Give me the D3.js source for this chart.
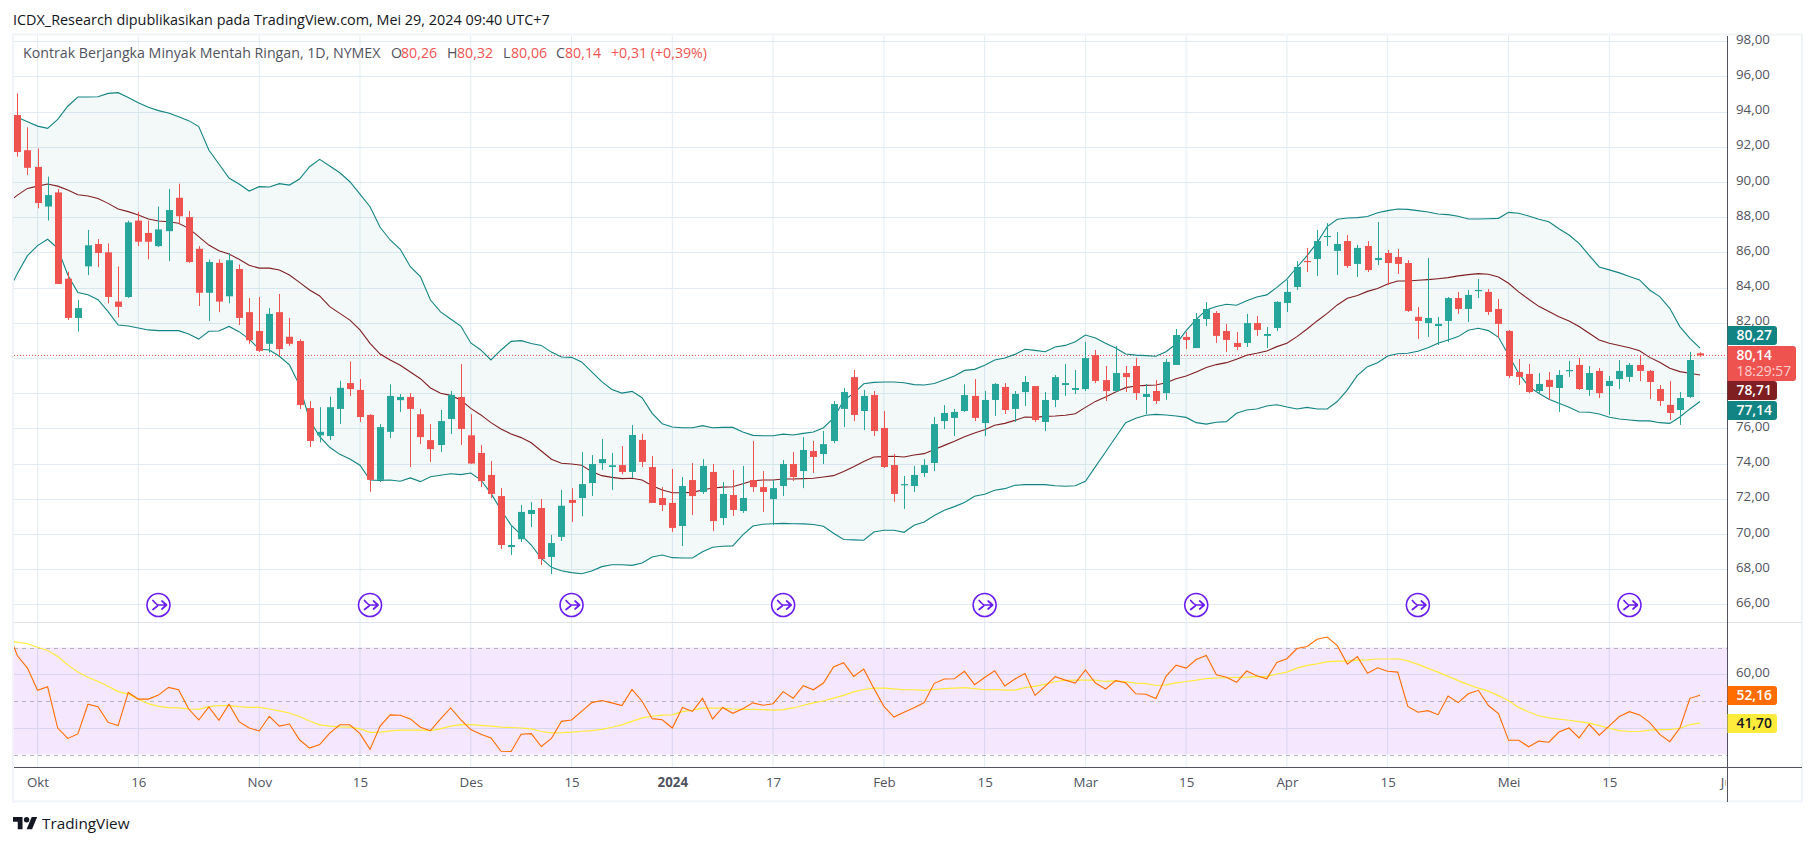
<!DOCTYPE html>
<html>
<head>
<meta charset="utf-8">
<title>ICDX chart</title>
<script src="https://cdn.jsdelivr.net/npm/d3@7"></script>
<style>
html,body{margin:0;padding:0;background:#fff;overflow:hidden}
text{font-family:"Open Sans","Noto Sans",sans-serif}
</style>
</head>
<body>
<svg id="c" width="1815" height="846"></svg>
<script>
const headerText = "ICDX_Research dipublikasikan pada TradingView.com, Mei 29, 2024 09:40 UTC+7";
const symbolText = "Kontrak Berjangka Minyak Mentah Ringan, 1D, NYMEX";
const ohlcKeys = ["O","H","L","C"];
const ohlcVals = ["80,26","80,32","80,06","80,14"];
const changeText = "+0,31 (+0,39%)";
const brandText = "TradingView";

const opens = [93.8,91.8,90.85,88.6,89.4,84.5,82.27,85.2,86.47,86.0,83.2,83.46,87.8,87.1,86.35,87.2,89.1,88.0,86.2,83.7,85.4,83.5,85.05,82.6,81.53,80.8,82.6,81.2,80.96,77.15,75.6,75.56,77.1,78.57,78.18,76.76,73.07,75.8,77.6,77.78,76.8,75.33,75.05,76.53,77.78,75.6,74.6,73.35,72.15,69.25,69.7,71.13,71.47,68.69,69.83,71.93,72.04,72.89,74.02,73.8,73.91,73.52,75.34,73.8,72.04,71.76,70.45,73.06,72.38,73.52,70.9,72.21,71.3,73.06,72.66,71.98,72.72,73.97,73.57,74.71,74.54,75.28,77.1,78.91,76.98,77.89,76.02,73.91,72.78,72.72,73.46,74.03,76.41,76.59,76.98,77.84,76.3,77.61,78.35,77.1,78.06,78.4,76.36,77.61,78.46,78.18,78.23,80.16,78.74,78.12,79.14,79.54,77.78,78.12,78.0,79.6,81.19,80.56,82.21,82.55,81.53,80.85,80.85,81.98,81.25,81.7,83.12,84.03,85.51,85.62,86.87,86.08,86.64,85.34,86.36,85.56,85.96,85.73,85.39,82.33,81.98,81.81,82.1,83.4,82.78,83.8,83.75,82.78,81.53,79.2,79.09,78.12,78.75,78.29,79.26,79.6,78.18,79.26,78.4,78.8,78.92,79.6,79.26,78.23,77.33,77.04,77.78,80.26];
const highs = [95.03,93.1,91.9,90.3,89.6,84.9,83.3,87.27,86.75,86.5,85.2,87.8,88.3,87.8,88.6,89.6,89.9,88.35,86.35,85.6,85.6,85.95,85.3,83.4,83.46,82.83,83.63,82.27,81.07,77.55,77.2,77.8,78.7,79.8,78.8,76.8,76.24,78.5,77.95,78.0,77.1,76.24,77.04,78.12,79.65,76.8,75.05,74.14,72.6,70.5,71.64,71.8,71.98,69.94,72.5,72.6,74.65,74.48,75.39,74.6,74.99,76.19,75.68,74.43,72.66,73.69,73.23,74.03,74.25,73.97,72.95,73.63,73.86,75.28,73.57,73.06,74.2,74.65,75.5,75.28,75.85,77.55,78.29,79.31,78.18,78.12,76.98,74.54,73.29,73.86,74.25,76.64,77.32,77.1,78.5,78.8,78.12,78.57,78.57,78.12,78.97,78.4,78.06,79.03,79.65,79.31,80.9,80.45,79.54,80.68,79.54,80.0,78.52,78.74,79.94,81.64,81.47,82.55,83.17,82.66,81.93,81.47,82.5,82.38,81.76,83.23,84.43,85.5,86.25,87.27,87.66,87.15,86.98,86.42,86.64,87.72,86.13,86.19,85.56,82.89,85.68,82.33,83.46,83.75,83.86,84.48,83.92,83.35,81.59,79.94,79.66,79.14,79.2,79.31,79.83,80.0,79.54,79.43,78.97,79.88,79.71,80.17,79.31,78.46,78.69,78.06,80.34,80.32];
const lows = [91.43,90.4,88.5,87.8,84.2,82.15,81.5,84.7,85.16,83.1,82.3,83.4,86.35,85.6,86.3,85.5,87.6,85.4,82.95,82.1,82.6,83.1,81.87,80.8,80.33,80.3,80.1,80.68,77.1,74.94,75.2,75.33,76.25,77.83,76.36,72.4,72.95,75.45,76.93,73.8,75.1,74.08,74.65,75.68,75.05,73.97,72.66,72.04,69.14,68.8,69.54,70.4,68.23,67.72,69.6,70.68,71.0,72.15,73.63,72.5,73.4,73.18,73.8,71.76,71.3,70.11,69.31,71.07,72.27,70.16,70.5,71.02,71.19,72.38,71.25,70.5,72.15,73.0,72.6,73.46,73.97,75.16,76.07,76.41,75.9,75.56,73.74,71.82,71.42,72.38,73.23,73.57,75.96,75.56,76.93,76.41,75.56,76.7,76.81,76.36,77.27,76.36,75.85,77.21,77.84,77.95,78.12,78.57,77.55,78.06,78.06,77.61,76.81,77.38,77.61,79.6,80.5,80.56,81.81,80.85,80.34,80.45,80.62,81.25,80.56,81.53,82.61,83.86,84.88,84.65,86.36,84.71,85.11,84.6,84.88,85.28,84.14,84.77,82.61,81.08,81.19,80.73,80.9,82.5,82.04,83.4,82.44,81.13,78.86,78.46,78.0,77.95,77.61,76.93,78.92,78.18,77.84,77.72,76.76,78.23,78.63,78.69,77.67,77.27,76.47,76.19,77.72,80.06];
const closes = [91.7,90.8,88.8,89.25,84.2,82.27,82.83,86.4,85.96,83.46,82.9,87.7,86.6,86.6,87.3,88.4,88.05,85.45,83.7,85.45,83.2,85.55,82.27,81.0,80.4,82.5,80.5,80.8,77.32,75.28,75.8,77.2,78.3,78.23,76.64,73.07,76.07,77.84,77.78,77.1,75.5,74.82,76.41,77.9,75.96,74.0,73.0,72.27,69.37,69.37,71.25,71.36,68.57,69.48,71.6,71.76,72.83,73.97,74.25,73.9,73.52,75.62,74.09,71.76,71.64,70.34,72.72,72.15,73.86,70.73,72.27,71.36,72.04,72.66,72.38,72.6,73.97,73.23,74.77,74.37,75.1,77.38,78.06,76.76,77.84,75.85,73.8,72.27,72.83,73.35,73.91,76.24,76.87,76.93,77.89,76.59,77.61,78.52,77.04,77.95,78.63,76.47,77.61,78.91,78.57,78.29,79.99,78.69,78.12,79.14,78.91,78.0,77.95,77.55,79.77,81.3,81.02,82.21,82.78,81.25,81.02,80.62,81.98,81.59,81.36,83.18,83.75,85.17,85.47,86.64,86.93,86.47,85.22,86.25,84.99,85.68,85.39,85.34,82.67,82.1,82.27,81.93,83.4,82.78,83.58,83.86,82.61,81.93,78.97,78.92,78.06,78.52,78.35,79.03,79.31,78.23,79.14,78.0,78.69,79.26,79.6,79.26,78.63,77.55,76.87,77.72,79.88,80.14];

// Bollinger and RSI series start one session before the first visible candle
const leadIndex = -1;
const bbUpper = [93.99,93.67,93.42,93.17,93.04,93.55,94.3,94.82,94.82,94.84,95.03,95.07,94.8,94.5,94.24,94.05,93.91,93.7,93.48,93.14,91.81,91.02,90.22,89.88,89.48,89.73,89.71,89.9,89.82,90.16,90.86,91.28,90.9,90.52,90.01,89.31,88.59,87.42,86.7,86.17,85.18,84.62,83.29,82.61,82.21,81.81,80.85,80.45,79.88,80.45,80.94,80.98,80.82,80.71,80.33,80.05,80.03,79.77,79.2,78.65,78.21,78.0,78.1,77.74,76.85,76.26,76.07,76.03,76.03,76.15,76.03,76.05,76.05,75.79,75.6,75.58,75.58,75.67,75.62,75.71,75.79,76.03,76.57,77.57,77.99,78.53,78.61,78.63,78.63,78.59,78.48,78.46,78.55,78.76,78.97,79.29,79.35,79.58,79.88,79.99,80.2,80.49,80.43,80.35,80.62,80.71,80.92,81.3,81.13,80.83,80.56,80.22,80.16,80.13,80.09,80.35,80.79,81.55,82.19,82.72,82.92,83.05,82.99,83.25,83.46,83.58,84.01,84.48,85.15,85.81,86.55,87.46,87.88,87.95,87.97,88.03,88.25,88.37,88.46,88.44,88.37,88.29,88.18,88.14,88.05,87.89,87.89,87.91,87.93,88.27,88.22,88.06,87.88,87.74,87.34,86.98,86.51,85.83,85.17,85.0,84.83,84.62,84.43,83.86,83.48,82.82,81.78,81.11,80.55];
const bbBasis = [88.78,89.25,89.63,89.76,89.88,89.76,89.54,89.27,89.2,89.06,88.78,88.46,88.31,88.12,87.89,87.78,87.74,87.65,87.36,86.89,86.41,86.09,85.9,85.6,85.26,85.1,85.1,84.99,84.71,84.29,83.86,83.52,82.91,82.53,82.15,81.59,80.83,80.22,79.88,79.58,79.2,78.82,78.29,77.99,77.87,77.61,77.13,76.76,76.32,75.96,75.68,75.47,75.18,74.71,74.24,74.01,73.97,73.9,73.54,73.31,73.21,73.14,73.16,73.06,72.74,72.49,72.34,72.34,72.36,72.49,72.61,72.66,72.68,72.85,73.02,73.06,73.06,73.12,73.12,73.14,73.16,73.23,73.31,73.54,73.82,74.12,74.37,74.39,74.41,74.37,74.48,74.56,74.8,75.03,75.26,75.52,75.73,75.92,76.17,76.28,76.45,76.64,76.62,76.68,76.7,76.74,76.83,77.19,77.53,77.78,78.06,78.31,78.4,78.44,78.46,78.59,78.82,78.97,79.2,79.46,79.62,79.73,79.92,80.15,80.26,80.39,80.64,80.83,81.21,81.64,82.1,82.53,83.01,83.39,83.54,83.78,83.94,84.2,84.37,84.37,84.41,84.45,84.5,84.56,84.66,84.73,84.79,84.75,84.6,84.24,83.75,83.33,82.93,82.63,82.34,82.1,81.78,81.4,81.02,80.83,80.7,80.58,80.41,80.03,79.75,79.41,79.22,79.13,79.03];
const bbLower = [83.67,84.8,85.81,86.38,86.74,86.22,84.71,83.71,83.59,83.31,82.63,81.87,81.81,81.7,81.59,81.55,81.55,81.55,81.36,81.07,81.51,81.53,81.79,81.49,81.07,80.49,80.45,80.09,79.6,78.44,76.47,75.52,74.92,74.52,74.26,73.9,73.06,73.04,73.06,72.99,73.18,72.97,73.25,73.33,73.42,73.37,73.46,73.06,72.3,71.36,70.5,69.94,69.37,68.61,68.1,67.91,67.8,67.74,67.89,68.14,68.25,68.25,68.21,68.35,68.69,68.8,68.65,68.63,68.63,68.99,69.24,69.3,69.32,69.94,70.45,70.55,70.58,70.6,70.58,70.57,70.53,70.43,70.04,69.68,69.66,69.64,70.11,70.21,70.21,70.09,70.49,70.68,71.04,71.34,71.55,71.78,72.14,72.25,72.48,72.57,72.76,72.8,72.8,72.8,72.74,72.71,72.74,72.99,73.82,74.65,75.49,76.32,76.57,76.74,76.79,76.76,76.7,76.62,76.32,76.24,76.34,76.38,76.85,77.04,77.1,77.27,77.34,77.21,77.1,77.19,77.1,77.1,77.52,78.18,79.01,79.5,79.73,80.11,80.24,80.26,80.38,80.58,80.83,81.02,81.21,81.57,81.68,81.55,81.17,80.17,79.13,78.37,77.99,77.65,77.42,77.19,76.93,76.91,76.81,76.63,76.53,76.47,76.42,76.42,76.32,76.28,76.64,77.1,77.52];
const rsi = [76.6,66.9,62.3,54.0,55.3,39.9,36.0,37.7,48.8,47.9,42.0,40.8,53.2,50.7,50.7,52.2,55.1,54.2,47.0,42.9,47.8,42.8,48.8,42.3,39.9,38.8,44.3,40.6,41.4,35.5,32.4,33.7,38.0,41.1,41.1,37.8,31.9,40.6,44.8,44.7,43.3,40.2,38.9,43.3,47.4,43.0,39.3,37.6,36.2,31.2,31.1,37.6,37.8,33.0,36.0,42.4,42.9,46.1,49.4,50.2,49.3,48.3,54.3,49.9,43.4,43.0,39.9,47.6,46.1,51.0,43.3,47.6,45.4,47.1,49.3,48.4,49.0,53.5,51.0,55.7,54.2,56.7,62.7,64.3,59.2,61.9,54.8,48.0,44.0,45.8,47.5,49.4,56.6,58.2,58.3,61.1,56.1,58.8,61.3,55.6,58.2,60.3,52.1,55.5,59.1,57.8,56.7,61.6,56.7,54.5,57.6,56.8,52.7,52.5,50.9,59.2,63.4,62.3,65.5,67.0,59.8,58.9,57.0,61.2,59.4,58.3,64.4,65.8,69.6,70.4,73.1,73.9,70.7,63.8,66.6,60.4,62.4,61.1,60.8,48.0,45.8,46.4,44.9,51.9,49.4,52.7,54.0,48.3,45.3,35.3,35.3,32.9,35.0,34.6,38.4,39.9,36.2,41.3,37.2,40.7,44.2,46.0,44.8,42.0,37.5,34.8,39.9,51.0,52.16];
const rsiMa = [72.2,72.0,71.4,70.1,68.9,66.6,63.5,60.8,58.9,57.3,55.5,53.5,52.6,50.7,49.0,48.0,47.5,47.4,47.0,46.9,47.9,48.3,48.3,47.9,47.6,47.6,47.0,46.3,45.5,44.2,42.5,41.1,40.6,40.3,40.2,39.6,38.3,38.4,38.8,39.1,39.1,39.1,38.9,39.6,40.6,41.2,41.2,40.9,40.6,40.2,40.1,39.9,39.6,38.6,38.1,38.2,38.4,38.7,38.9,39.4,40.2,41.1,42.4,43.7,44.3,44.7,44.8,46.0,46.6,47.3,47.3,47.3,47.0,46.9,46.9,46.8,46.6,46.8,47.4,48.4,49.3,50.0,51.1,52.1,53.4,54.3,54.8,54.8,54.5,54.2,54.2,54.0,54.3,54.6,54.8,55.0,54.6,54.2,54.3,54.1,54.1,55.0,55.5,56.3,57.2,57.7,57.8,57.8,57.8,57.3,57.5,57.2,56.7,56.5,55.8,56.0,56.8,57.3,57.8,58.4,58.6,58.7,58.8,58.9,59.1,59.2,60.1,60.8,62.3,63.3,63.9,64.7,64.9,64.9,65.3,65.4,65.7,65.7,65.8,65.0,63.7,62.2,60.8,59.2,57.6,56.1,54.8,53.7,52.0,50.1,47.6,45.9,44.5,43.7,43.2,42.8,42.3,41.7,40.8,39.8,38.9,38.6,38.6,39.1,39.3,39.3,39.8,41.2,41.7];

const priceTicks = [98,96,94,92,90,88,86,84,82,80,78,76,74,72,70,68,66];
const priceAxisTicks = [98,96,94,92,90,88,86,84,82,76,74,72,70,68,66];
const rsiGridTicks = [60,40];
const rsiAxisTicks = [60];
const rsiLevels = [70,50,30];
const timeIdx = [2,12,24,34,45,55,65,75,86,96,106,116,126,136,148,158,170];
const timeLabels = ["Okt","16","Nov","15","Des","15","2024","17","Feb","15","Mar","15","Apr","15","Mei","15","Jun"];
const eventIdx = [14,35,55,76,96,117,139,160];
const lastPrice = 80.14;
const countdown = "18:29:57";

const priceLabels = [
  {v:"80,27", bg:"#138484", fg:"#fff", top:326, h:19},
  {v:"78,71", bg:"#801f22", fg:"#fff", top:381, h:19},
  {v:"77,14", bg:"#138484", fg:"#fff", top:401, h:19}
];
const rsiLabels = [
  {v:"52,16", bg:"#ff6d00", fg:"#fff", top:686, h:19},
  {v:"41,70", bg:"#ffeb3b", fg:"#131722", top:714, h:19}
];

const L=14, AX=1727.5, R=1802, T=36, PB=622, RB=767, B=802;
const comma = d => d.toFixed(2).replace(".",",");
const green="#26a69a", red="#ef5350", teal="#138484", maroon="#801f22", txt="#50535e";
const font='"Open Sans","Noto Sans",sans-serif';

const x = d3.scaleLinear().domain([0,167]).range([17.4,1700]);
const y = d3.scaleLinear().domain([76,96]).range([428.3,76.3]);
const yr = d3.scaleLinear().domain([30,70]).range([754.5,647.5]);

const svg = d3.select("#c");
const defs = svg.append("defs");
defs.append("clipPath").attr("id","main").append("rect").attr("x",L).attr("y",T).attr("width",AX-L).attr("height",PB-T);
defs.append("clipPath").attr("id","rsi").append("rect").attr("x",L).attr("y",PB).attr("width",AX-L).attr("height",RB-PB);
defs.append("clipPath").attr("id","time").append("rect").attr("x",L).attr("y",RB).attr("width",1725.6-L).attr("height",B-RB);

// header
svg.append("text").attr("x",13).attr("y",25).attr("font-size",14.4).attr("fill","#131722").text(headerText);

// frame
svg.append("rect").attr("x",13).attr("y",34.5).attr("width",1789).attr("height",767).attr("fill","none").attr("stroke","#f0f3fa").attr("stroke-width",2);

// grid
const gridC="#e1ecf2";
svg.append("g").selectAll("line").data(timeIdx.slice(0,-1)).join("line")
  .attr("x1",d=>x(d)).attr("x2",d=>x(d)).attr("y1",T).attr("y2",RB)
  .attr("stroke",gridC);
svg.append("g").selectAll("line").data(priceTicks).join("line")
  .attr("x1",L).attr("x2",AX).attr("y1",d=>Math.round(y(d))+.5).attr("y2",d=>Math.round(y(d))+.5)
  .attr("stroke",gridC);
svg.append("g").selectAll("line").data(rsiGridTicks).join("line")
  .attr("x1",L).attr("x2",AX).attr("y1",d=>Math.round(yr(d))+.5).attr("y2",d=>Math.round(yr(d))+.5)
  .attr("stroke",gridC);

// pane separator
svg.append("line").attr("x1",L).attr("x2",R).attr("y1",622.5).attr("y2",622.5).attr("stroke","#e0e3eb");

// main pane
const main = svg.append("g").attr("clip-path","url(#main)");
const lx = (d,i)=>x(i+leadIndex);
main.append("path").datum(bbUpper)
  .attr("d", d3.area().x(lx).y0((d,i)=>y(bbLower[i])).y1(d=>y(d)))
  .attr("fill",teal).attr("fill-opacity",.05);

main.append("line").attr("x1",L).attr("x2",AX).attr("y1",y(lastPrice)).attr("y2",y(lastPrice))
  .attr("stroke","#f04848").attr("stroke-dasharray","1 2");

const line = d3.line().x(lx).y(d=>y(d));
main.append("path").datum(bbBasis).attr("d",line).attr("fill","none").attr("stroke",maroon).attr("stroke-width",1.1);
main.append("path").datum(bbUpper).attr("d",line).attr("fill","none").attr("stroke",teal).attr("stroke-width",1.1);
main.append("path").datum(bbLower).attr("d",line).attr("fill","none").attr("stroke",teal).attr("stroke-width",1.1);

const candles = opens.map((o,i)=>({i,o,h:highs[i],l:lows[i],c:closes[i]}));
const cg = main.append("g").selectAll("g").data(candles).join("g");
cg.append("line")
  .attr("x1",d=>Math.round(x(d.i))+.5).attr("x2",d=>Math.round(x(d.i))+.5)
  .attr("y1",d=>y(d.h)).attr("y2",d=>y(d.l))
  .attr("stroke",d=>d.c>=d.o?green:red);
cg.append("rect")
  .attr("x",d=>Math.round(x(d.i))-3).attr("width",7)
  .attr("y",d=>y(Math.max(d.o,d.c)))
  .attr("height",d=>Math.max(1.2,Math.abs(y(d.o)-y(d.c))))
  .attr("fill",d=>d.c>=d.o?green:red);

// events
const ev = svg.append("g").selectAll("g").data(eventIdx).join("g")
  .attr("transform",d=>`translate(${x(d)},605)`);
ev.append("circle").attr("r",11.5).attr("fill","#fff").attr("stroke","#6a1bf0").attr("stroke-width",1.6);
ev.append("path").attr("d","M-5.5,-4.5 C-3,-1.5 -1,0 0,0 H8 M3.5,-4 L8,0 L3.5,4 M-5.5,4.5 L-1,1")
  .attr("fill","none").attr("stroke","#6a1bf0").attr("stroke-width",1.7).attr("stroke-linecap","round").attr("stroke-linejoin","round");

// RSI pane
const rp = svg.append("g").attr("clip-path","url(#rsi)");
rp.append("rect").attr("x",L).attr("width",AX-L).attr("y",yr(70)).attr("height",yr(30)-yr(70))
  .attr("fill","#9c27f5").attr("fill-opacity",.11);
rp.append("g").selectAll("line").data(rsiLevels).join("line")
  .attr("x1",L).attr("x2",AX).attr("y1",d=>Math.round(yr(d))+.5).attr("y2",d=>Math.round(yr(d))+.5)
  .attr("stroke","#b5b2ba").attr("stroke-dasharray","4 4");
const lineR = d3.line().x(lx).y(d=>yr(d));
rp.append("path").datum(rsiMa).attr("d",lineR).attr("fill","none").attr("stroke","#ffeb3b").attr("stroke-width",1.2);
rp.append("path").datum(rsi).attr("d",lineR).attr("fill","none").attr("stroke","#ff6d00").attr("stroke-width",1.1);

// axis frame lines
svg.append("line").attr("x1",AX).attr("x2",AX).attr("y1",T).attr("y2",B).attr("stroke",txt);
svg.append("line").attr("x1",L).attr("x2",R).attr("y1",767.5).attr("y2",767.5).attr("stroke",txt);

// price axis
const axP = d3.axisRight(y).tickValues(priceAxisTicks).tickFormat(comma).tickSize(0).tickPadding(0);
const gp = svg.append("g").attr("transform",`translate(1736,-2)`).call(axP);
gp.select(".domain").remove();
gp.selectAll("text").attr("font-size",13.3).attr("fill",txt).attr("font-family",font);

const axR = d3.axisRight(yr).tickValues(rsiAxisTicks).tickFormat(comma).tickSize(0).tickPadding(0);
const gr = svg.append("g").attr("transform",`translate(1736,-2)`).call(axR);
gr.select(".domain").remove();
gr.selectAll("text").attr("font-size",13.3).attr("fill",txt).attr("font-family",font);

// time axis
const axT = d3.axisBottom(x).tickValues(timeIdx).tickFormat((d,i)=>timeLabels[i]).tickSize(0).tickPadding(0);
const gt = svg.append("g").attr("clip-path","url(#time)").append("g").attr("transform",`translate(0,778)`).call(axT);
gt.select(".domain").remove();
gt.selectAll("text").attr("font-size",13.3).attr("fill",txt).attr("font-family",font)
  .attr("font-weight",(d,i)=>timeLabels[i]==="2024"?700:400);

// price labels
function tag(d){
  const s=svg.append("g");
  s.append("path").attr("d",`M1727.5,${d.top} H1774 a3,3 0 0 1 3,3 V${d.top+d.h-3} a3,3 0 0 1 -3,3 H1727.5 Z`).attr("fill",d.bg);
  s.append("text").attr("x",1736.5).attr("y",d.top+d.h/2+4.9).attr("font-size",13.8).attr("font-weight",600).attr("fill",d.fg).text(d.v);
}
priceLabels.forEach(tag);
rsiLabels.forEach(tag);
svg.append("path").attr("d","M1727.5,346 H1793 a3,3 0 0 1 3,3 V378 a3,3 0 0 1 -3,3 H1727.5 Z").attr("fill",red);
svg.append("text").attr("x",1736.5).attr("y",359.5).attr("font-size",13.8).attr("font-weight",600).attr("fill","#fff").text(comma(lastPrice));
svg.append("text").attr("x",1736.5).attr("y",375.5).attr("font-size",13.8).attr("fill","#ffd0cf").text(countdown);

// legend
svg.append("text").attr("x",23).attr("y",58).attr("font-size",14.2).attr("fill","#50535e").text(symbolText);
const legendKeyX=[391,447,503,556], legendValX=[401,457,511,565];
ohlcKeys.forEach((k,i)=>{
  svg.append("text").attr("x",legendKeyX[i]).attr("y",58).attr("font-size",14.2).attr("fill","#50535e").text(k);
  svg.append("text").attr("x",legendValX[i]).attr("y",58).attr("font-size",14.2).attr("fill",red).text(ohlcVals[i]);
});
svg.append("text").attr("x",611).attr("y",58).attr("font-size",14.2).attr("fill",red).text(changeText);

// brand
const logo = svg.append("g").attr("transform","translate(13,814.3) scale(.68)").attr("fill","#131722");
logo.append("path").attr("d","M14 22H7V11H0V4h14v18zM28 22h-8l7.5-18h8L28 22z");
logo.append("circle").attr("cx",20).attr("cy",8).attr("r",4);
svg.append("text").attr("x",42).attr("y",829).attr("font-size",15.3).attr("fill","#131722").text(brandText);
</script>
</body>
</html>
